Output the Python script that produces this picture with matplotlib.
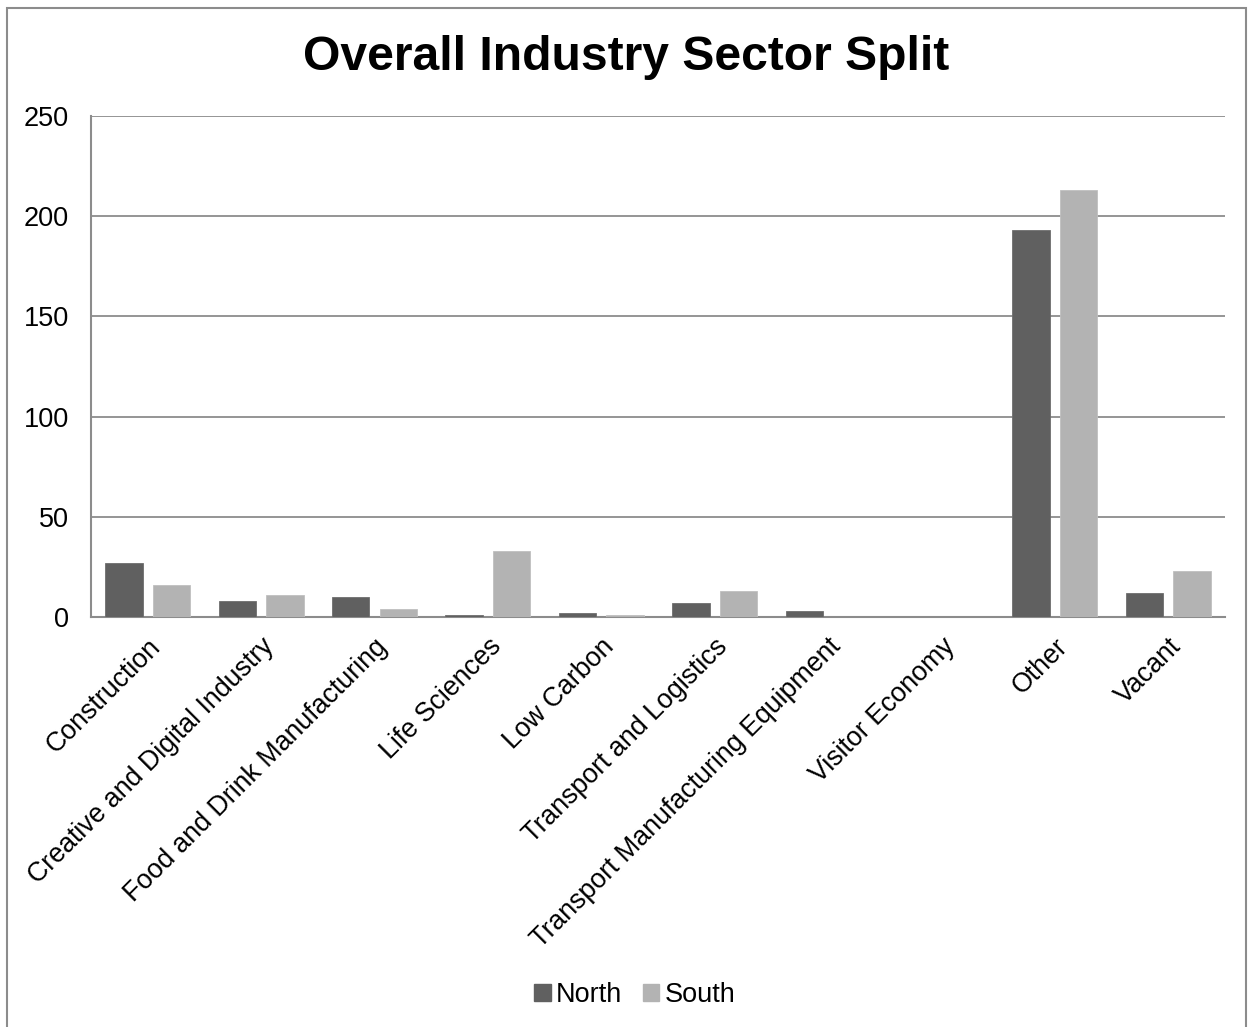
import matplotlib
matplotlib.use("Agg")
import matplotlib.pyplot as plt
from matplotlib.patches import Rectangle, Patch
import numpy as np

categories = ["Construction", "Creative and Digital Industry", "Food and Drink Manufacturing",
              "Life Sciences", "Low Carbon", "Transport and Logistics",
              "Transport Manufacturing Equipment", "Visitor Economy", "Other", "Vacant"]
north = [27, 8, 10, 1, 2, 7, 3, 0, 193, 12]
south = [16, 11, 4, 33, 1, 13, 0, 0, 213, 23]
yticks = [0, 50, 100, 150, 200, 250]

plt.rcParams['font.family'] = ['Liberation Sans', 'DejaVu Sans']

W, H = 1252, 1027
fig = plt.figure(figsize=(W/100, H/100), dpi=100)
ax = fig.add_axes([91/W, 1-617/H, (1225-91)/W, (617-116)/H])

x = np.arange(len(categories))
c_n, c_s = '#606060', '#b3b3b3'
ax.bar(x - 0.21, north, width=0.33, color=c_n, edgecolor='#6e6e6e', linewidth=0.6, zorder=3)
ax.bar(x + 0.21, south, width=0.33, color=c_s, edgecolor='#c0c0c0', linewidth=0.6, zorder=3)

ax.set_xlim(-0.5, len(categories) - 0.5)
ax.set_ylim(0, 250)
ax.set_yticks(yticks)
ax.set_yticklabels([str(v) for v in yticks], fontsize=19.5)
ax.yaxis.grid(True, color='#8c8c8c', linewidth=1.3, zorder=0)
ax.set_axisbelow(True)
for s in ['top', 'right']:
    ax.spines[s].set_visible(False)
for s in ['left', 'bottom']:
    ax.spines[s].set_color('#8c8c8c')
    ax.spines[s].set_linewidth(1.5)
ax.tick_params(axis='both', length=0)
ax.tick_params(axis='y', pad=16)
ax.set_xticks(x)
ax.set_xticklabels(categories, rotation=45, ha='right', va='top',
                   rotation_mode='anchor', fontsize=19.3)
ax.tick_params(axis='x', pad=12)

fig.text(0.5, 1-58/H, "Overall Industry Sector Split", ha='center', va='center',
         fontsize=34.6, fontweight='bold')

handles = [Patch(color=c_n, label='North'), Patch(color=c_s, label='South')]
fig.legend(handles=handles, loc='center', bbox_to_anchor=(0.507, 1-995/H), ncol=2,
           frameon=False, fontsize=19.5, handlelength=0.6, handleheight=0.6,
           handletextpad=0.2, columnspacing=0.75)

fig.patches.append(Rectangle((7/W, -0.01), (1246-7)/W, 1.01-8/H, transform=fig.transFigure,
                             fill=False, edgecolor='#8c8c8c', linewidth=1.5))

fig.savefig("out.png", dpi=100)
